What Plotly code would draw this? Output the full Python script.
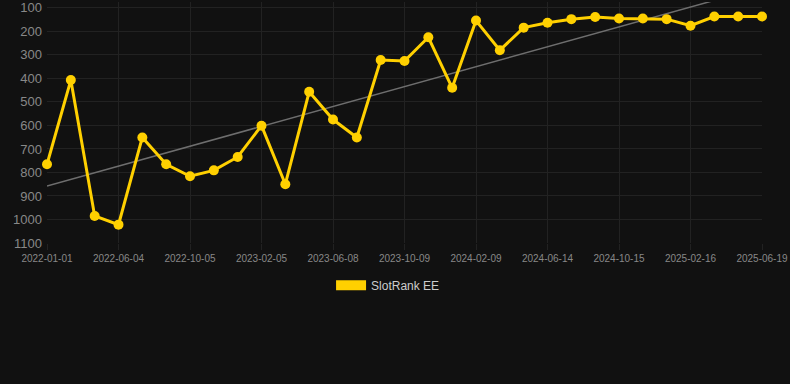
import numpy as np
import plotly.graph_objects as go

dates = ["2022-01-01", "2022-02-21", "2022-04-13", "2022-06-04", "2022-07-15", "2022-08-25",
         "2022-10-05", "2022-11-15", "2022-12-26", "2023-02-05", "2023-03-18", "2023-04-28",
         "2023-06-08", "2023-07-19", "2023-08-29", "2023-10-09", "2023-11-19", "2023-12-30",
         "2024-02-09", "2024-03-21", "2024-05-03", "2024-06-14", "2024-07-25", "2024-09-04",
         "2024-10-15", "2024-11-25", "2025-01-06", "2025-02-16", "2025-03-29", "2025-05-09",
         "2025-06-19"]
ranks = [765, 407, 985, 1022, 651, 765, 816, 791, 734, 601, 850, 457, 575, 651, 322, 326,
         225, 440, 154, 280, 184, 163, 148, 139, 145, 145, 148, 176, 137, 137, 137]
tick_labels = dates[::3]
y_ticks = [100, 200, 300, 400, 500, 600, 700, 800, 900, 1000, 1100]

idx = np.arange(len(ranks))
slope, intercept = np.polyfit(idx, ranks, 1)
trend = slope * idx + intercept

fig = go.Figure()
fig.add_trace(go.Scatter(x=dates, y=trend, mode="lines",
                         line=dict(color="#6e6e6e", width=1.5),
                         showlegend=False, hoverinfo="skip"))
fig.add_trace(go.Scatter(x=dates, y=ranks, mode="lines+markers",
                         line=dict(color="#FFD000", width=3),
                         marker=dict(color="#FFD000", size=10),
                         cliponaxis=False, showlegend=False))
fig.add_trace(go.Scatter(x=[None], y=[None], mode="lines",
                         line=dict(color="#FFD000", width=11),
                         name="SlotRank EE"))

fig.update_layout(
    width=790, height=384,
    paper_bgcolor="#111111", plot_bgcolor="#111111",
    margin=dict(l=47, r=28, t=0, b=141),
    font=dict(family="Liberation Sans, Arial, sans-serif", color="#888888"),
    showlegend=True,
    legend=dict(orientation="h", x=0.477, xanchor="center", y=-0.115, yanchor="top",
                font=dict(size=12, color="#cccccc"), bgcolor="rgba(0,0,0,0)"),
    xaxis=dict(type="category", tickmode="array", tickvals=tick_labels, ticktext=tick_labels,
               showgrid=True, gridcolor="#222222", gridwidth=1,
               ticks="outside", ticklen=6, tickcolor="#222222",
               tickfont=dict(size=10, color="#888888"),
               showline=False, zeroline=False, range=[0, len(dates) - 1]),
    yaxis=dict(range=[1100, 75], tickmode="array", tickvals=y_ticks,
               showgrid=True, gridcolor="#222222", gridwidth=1,
               tickfont=dict(size=13, color="#888888"),
               zeroline=False, showline=False, ticklabelstandoff=4,
               ticklabeloverflow="allow"),
)

fig.write_html("out.html", config={"displayModeBar": False},
               post_script="document.body.style.margin='0';document.body.style.background='#111111';")
